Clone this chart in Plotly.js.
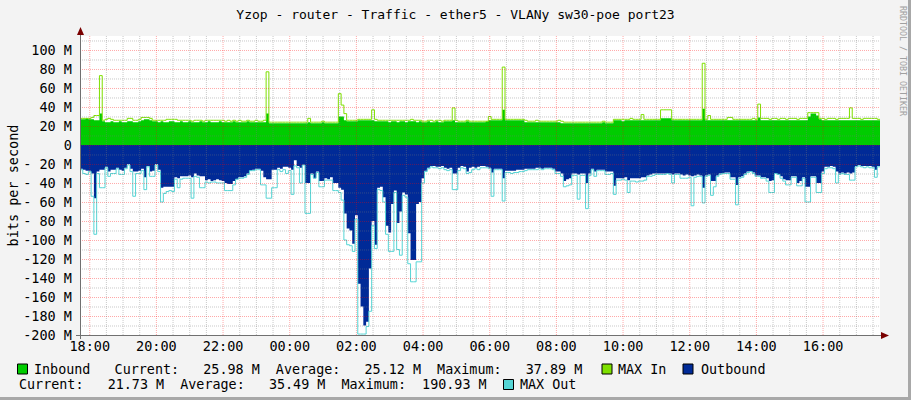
<!DOCTYPE html>
<html><head><meta charset="utf-8">
<script src="https://cdn.plot.ly/plotly-3.0.1.min.js"></script>
<style>html,body{margin:0;padding:0;background:#F3F3F3;}#chart{width:911px;height:400px;}</style>
</head><body><div id="chart"></div>
<script>
// 5-minute samples, 24 per row = 2 hours per row, starting 17:42:30
const inbound = [
27,27,28,27,27,26,26,33,25,24,24,25,24,24,25,24,24,25,25,24,24,25,26,27,
27,26,25,25,24,25,24,24,25,25,24,24,25,24,24,25,24,24,24,25,24,24,25,24,
24,24,25,24,24,24,24,25,24,24,24,24,25,24,24,24,24,24,24,33,23,23,23,23,
23,23,23,23,23,23,23,23,23,23,24,23,23,23,23,24,23,23,23,23,23,30,30,26,
25,25,25,25,26,26,26,26,26,26,25,25,25,25,25,24,25,25,24,25,25,24,25,25,
25,24,25,24,24,25,24,24,25,24,24,25,25,25,26,24,24,24,24,25,24,24,24,24,
24,24,25,26,26,26,26,26,37,26,26,26,26,26,26,26,24,24,24,24,24,24,24,24,
24,24,24,24,24,23,23,23,23,23,23,23,23,23,23,23,23,23,23,23,24,23,23,23,
26,26,26,25,26,26,26,26,26,26,26,26,26,26,26,26,26,28,28,28,28,26,26,26,
26,26,26,26,26,26,26,26,38,26,26,26,26,26,26,26,26,26,26,26,26,26,26,26,
26,26,26,26,29,26,26,26,26,26,26,26,26,26,26,26,26,26,26,26,26,26,30,33,
33,31,27,26,26,26,26,26,26,26,26,26,26,26,26,26,26,26,26,26,26,26,26,26
];
const maxIn = [
28,28,28,28,29,31,31,73,26,27,28,27,26,26,26,26,26,28,28,26,26,27,29,29,
29,28,26,26,26,26,26,27,27,27,27,26,26,26,26,26,25,26,26,26,25,26,26,26,
26,26,26,26,25,26,25,26,25,26,25,25,26,25,25,26,25,25,26,77,24,24,24,24,
24,24,24,24,24,24,24,24,24,24,28,24,24,24,24,25,24,24,24,24,24,54,42,33,
26,26,26,26,27,27,27,27,27,37,27,26,26,26,26,26,26,26,26,26,26,26,26,27,
26,26,26,25,25,26,26,25,26,26,25,26,26,26,39,26,25,25,25,26,25,25,25,25,
25,25,25,30,27,27,27,27,82,27,27,27,27,27,27,27,26,25,25,25,26,25,25,25,
25,25,25,25,26,25,24,24,24,24,24,24,24,24,24,24,24,24,24,24,25,24,24,24,
27,27,27,27,27,27,28,27,27,27,32,27,27,27,27,27,27,37,37,37,37,27,27,27,
27,27,27,27,27,27,27,27,86,27,31,27,27,27,27,27,27,29,29,27,27,27,27,27,
27,27,28,27,43,28,28,28,27,28,28,27,28,28,27,28,28,28,27,28,28,28,34,34,
34,34,28,28,27,28,28,28,27,28,28,28,28,39,28,28,28,27,28,28,28,28,28,27
];
const outbound = [
25,26,27,27,30,56,28,26,26,23,28,26,26,24,26,27,24,20,25,28,28,27,25,34,
22,28,27,20,26,45,44,44,44,44,34,35,33,33,33,32,34,30,32,33,33,37,36,38,
37,36,37,38,40,41,41,38,36,34,34,33,30,27,26,25,25,27,34,36,36,26,26,24,
25,23,23,24,26,16,22,24,21,40,40,30,35,28,38,38,35,36,34,40,40,45,47,72,
88,90,104,74,146,170,190,186,130,80,105,45,44,55,85,92,62,48,82,70,50,52,93,121,
121,62,60,35,27,24,22,22,23,23,22,24,25,24,30,30,24,22,23,28,24,23,24,23,
22,22,23,24,29,25,25,25,35,27,27,27,27,26,26,26,25,25,25,25,24,24,25,24,
24,24,25,28,28,30,38,36,35,30,30,31,30,30,40,30,25,28,26,26,26,28,28,28,
43,35,35,35,34,37,35,35,35,35,34,34,32,31,30,30,30,30,30,30,30,31,30,30,
31,32,31,32,33,32,31,32,45,32,31,38,38,32,30,30,29,29,34,34,42,34,33,30,
28,28,29,32,32,34,34,35,38,37,30,31,33,36,37,37,33,33,40,38,34,44,44,33,
33,40,40,28,23,23,22,23,28,30,29,30,29,30,29,22,21,22,22,22,22,23,26,22
];
const maxOut = [
26,30,31,28,54,94,30,45,45,24,33,30,30,25,31,31,25,21,28,54,30,30,27,47,
23,33,33,21,28,60,51,49,48,49,36,45,36,35,35,35,56,33,34,45,45,39,40,39,
39,40,40,40,48,48,48,42,36,35,35,34,31,27,27,26,26,42,42,56,56,45,45,26,
28,26,30,27,52,22,24,40,21,72,72,31,35,29,44,44,37,37,37,48,48,50,58,100,
105,106,112,78,199,199,199,191,175,85,109,47,48,60,94,112,112,50,110,116,53,55,125,144,
144,123,123,40,28,25,23,24,24,25,24,26,27,26,47,47,27,24,25,30,29,26,25,26,
24,24,24,25,54,26,26,26,59,29,29,30,29,29,28,28,27,26,26,26,26,25,26,25,
25,25,26,30,30,33,44,43,42,32,32,57,32,32,67,32,26,33,27,27,27,31,31,30,
52,37,37,36,37,50,38,38,39,38,38,37,33,33,32,31,31,31,31,30,31,40,31,31,
35,35,35,34,64,34,33,33,61,33,32,53,44,33,31,30,30,30,36,36,63,35,34,31,
29,28,30,33,33,35,35,38,50,50,30,31,35,38,42,42,34,34,43,43,35,60,60,34,
34,50,50,30,25,24,24,25,40,31,30,31,31,37,37,23,22,23,24,23,24,24,34,23
];
const timeLabels = ['18:00','20:00','22:00','00:00','02:00','04:00','06:00','08:00','10:00','12:00','14:00','16:00'];
const yTickValues = [-200,-180,-160,-140,-120,-100,-80,-60,-40,-20,0,20,40,60,80,100];
const yTickLabels = ['-200 M','-180 M','-160 M','-140 M','-120 M','-100 M','- 80 M','- 60 M','- 40 M','- 20 M','0','20 M','40 M','60 M','80 M','100 M'];
const inStats = [25.98, 25.12, 37.89];
const outStats = [21.73, 35.49, 190.93];
const titleText = 'Yzop - router - Traffic - ether5 - VLANy sw30-poe port23';

// time axis
const STEP = 5*60*1000;
const startTime = Date.UTC(2024,0,1,17,42,30);
const endTime = startTime + 24*3600*1000;
function times(n){const t=[];for(let i=0;i<n;i++)t.push(startTime+i*STEP);t.push(endTime);return t;}
function ext(a){return a.concat([a[a.length-1]]);}
const X = times(inbound.length);
const tickVals = timeLabels.map(s=>{const h=+s.slice(0,2);const day=h>=17?1:2;return Date.UTC(2024,0,day,h,0,0);});

const FONT='DejaVu Sans Mono';
const data = [
 {x:X, y:ext(inbound), type:'scatter', mode:'lines', line:{width:0,shape:'hv'}, fill:'tozeroy', fillcolor:'#00CC00', hoverinfo:'skip'},
 {x:X, y:ext(maxIn), type:'scatter', mode:'lines', line:{width:1,shape:'hv',color:'#7EE000'}, hoverinfo:'skip'},
 {x:X, y:ext(outbound.map(v=>-v)), type:'scatter', mode:'lines', line:{width:0,shape:'hv'}, fill:'tozeroy', fillcolor:'#002A97', hoverinfo:'skip'},
 {x:X, y:ext(maxOut.map(v=>-v)), type:'scatter', mode:'lines', line:{width:1,shape:'hv',color:'#55D5D5'}, hoverinfo:'skip'}
];

// pixel helpers (plot area: x 80..880, y 36..335)
const L=80, W=800, B=335, H=299;
const px=p=>(p-L)/W, py=p=>(B-p)/H;
const yMin=-200, yMax=114.7, pxPerM=H/(yMax-yMin);

const shapes=[];
for(let v=-190; v<=110; v+=10){
  const major = (v%20===0);
  shapes.push({type:'line', xref:'paper', yref:'y', x0:0, x1:1, y0:v-0.5/pxPerM, y1:v-0.5/pxPerM,
    line:{color: major?'rgba(255,0,0,0.34)':'rgba(120,120,120,0.40)', width:1, dash:'1px,1px'}, layer:'above'});
}
const firstTick = tickVals[0];
for(let t=firstTick, k=0; t<endTime; t+=30*60*1000, k++){
  const major = (k%4===0);
  shapes.push({type:'line', xref:'x', yref:'paper', x0:t, x1:t, y0:0, y1:1,
    line:{color: major?'rgba(255,0,0,0.34)':'rgba(120,120,120,0.40)', width:1, dash:'1px,1px'}, layer:'above'});
}
shapes.push({type:'line', xref:'paper', yref:'paper', x0:px(80.5), x1:px(80.5), y0:py(33), y1:py(339), line:{color:'#707070', width:1}});
shapes.push({type:'line', xref:'paper', yref:'paper', x0:px(76), x1:px(882), y0:py(335.5), y1:py(335.5), line:{color:'#707070', width:1}});
shapes.push({type:'path', xref:'paper', yref:'paper', path:`M ${px(80.5)} ${py(27)} L ${px(77)} ${py(35)} L ${px(84)} ${py(35)} Z`, fillcolor:'#7A0000', line:{width:0}});
shapes.push({type:'path', xref:'paper', yref:'paper', path:`M ${px(889)} ${py(335.5)} L ${px(881)} ${py(332)} L ${px(881)} ${py(339)} Z`, fillcolor:'#7A0000', line:{width:0}});
shapes.push({type:'rect', xref:'paper', yref:'paper', x0:px(908), x1:px(911), y0:py(0), y1:py(400), fillcolor:'#A8A8A8', line:{width:0}});
shapes.push({type:'rect', xref:'paper', yref:'paper', x0:px(0), x1:px(911), y0:py(397), y1:py(400), fillcolor:'#A8A8A8', line:{width:0}});
function box(x0,y0,c){shapes.push({type:'rect', xref:'paper', yref:'paper', x0:px(x0), x1:px(x0+10), y0:py(y0), y1:py(y0+10), fillcolor:c, line:{color:'#000',width:1}});}
box(17.5,364,'#00CC00'); box(602,364,'#7EE000'); box(683,364,'#002A97'); box(503.5,379.5,'#55D5D5');

const nb=s=>s.replace(/ /g,'\u00a0');
const f=v=>v.toFixed(2).padStart(8,' ')+' M';
const line1 = nb('Inbound   Current:'+f(inStats[0])+'  Average:'+f(inStats[1])+'  Maximum:'+f(inStats[2]));
const line2 = nb('Current:'+f(outStats[0])+'  Average:'+f(outStats[1])+'  Maximum:'+f(outStats[2]));
const txt=(x,y,t)=>({xref:'paper', yref:'paper', x:px(x), y:py(y), text:t, showarrow:false, xanchor:'left', yanchor:'middle', font:{family:FONT,size:13.4,color:'#000'}});
const annotations=[
 txt(31.7,369,line1), txt(616,369,'MAX In'), txt(698.6,369,'Outbound'),
 txt(16.6,384.5,line2), txt(518,384.5,nb('MAX Out')),
 {xref:'paper', yref:'paper', x:px(12), y:py(185.5), text:'bits per second', textangle:-90, showarrow:false, xanchor:'center', yanchor:'middle', font:{family:FONT,size:13.5,color:'#000'}},
 {xref:'paper', yref:'paper', x:px(902.5), y:py(60.5), text:'RRDTOOL / TOBI OETIKER', textangle:90, showarrow:false, xanchor:'center', yanchor:'middle', font:{family:FONT,size:8.3,color:'#A0A0A0'}}
];

const layout = {
 width:911, height:400, margin:{l:80,r:31,t:36,b:65,pad:0},
 paper_bgcolor:'#F3F3F3', plot_bgcolor:'#FFFFFF', showlegend:false,
 title:{text:titleText, font:{family:FONT,size:13,color:'#000'}, x:0.5, xref:'container', xanchor:'center', y:1-14.7/400, yref:'container', yanchor:'middle'},
 xaxis:{type:'date', range:[startTime,endTime], tickmode:'array', tickvals:tickVals, ticktext:timeLabels, showgrid:false, zeroline:false, showline:false, ticks:'', ticklabelstandoff:1, tickfont:{family:FONT,size:13.5,color:'#000'}, fixedrange:true},
 yaxis:{range:[yMin,yMax], tickmode:'array', tickvals:yTickValues, ticktext:yTickLabels, showgrid:false, zeroline:false, showline:false, ticks:'', ticklabelstandoff:7, tickfont:{family:FONT,size:13.5,color:'#000'}, fixedrange:true},
 shapes:shapes, annotations:annotations
};
Plotly.newPlot('chart', data, layout, {staticPlot:true, displayModeBar:false});
</script></body></html>
